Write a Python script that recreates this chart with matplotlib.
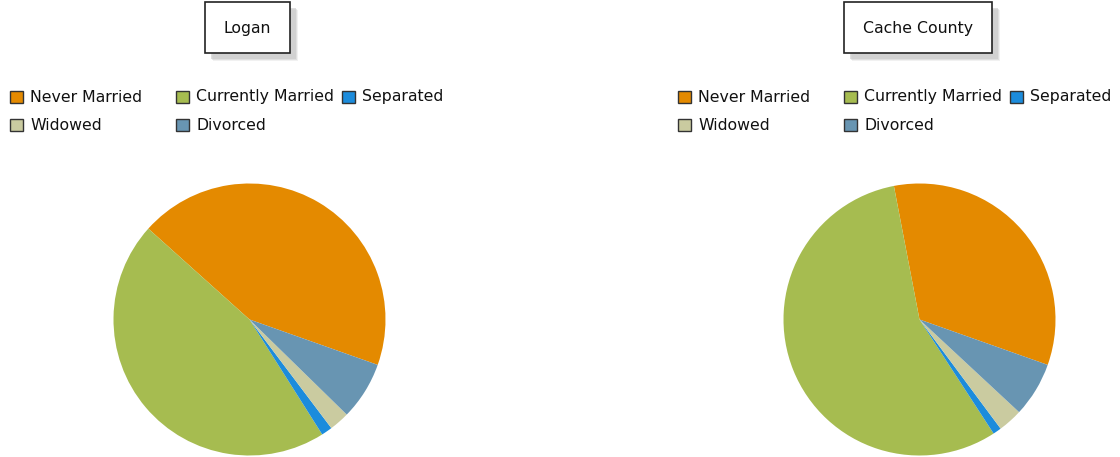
import matplotlib.pyplot as plt
from matplotlib.patches import Rectangle

# marital status shares (percent)
labels = ["Never Married", "Currently Married", "Separated", "Widowed", "Divorced"]
colors = ["#e48a00", "#a6bc50", "#1c8cdc", "#cacba0", "#6895b2"]
logan = [43.75, 45.6, 1.3, 2.4, 6.9]
cache = [33.4, 56.1, 1.0, 2.9, 6.5]
titles = ["Logan", "Cache County"]

W, H = 1120, 457
fig = plt.figure(figsize=(W / 100, H / 100), dpi=100)


def fx(px):
    return px / W


def fy(py):
    return 1 - py / H


def panel(vals, title, x0, cx, box):
    # title box with soft shadow
    bl, bt, br, bb = box
    for off, a in [(8, 0.25), (7, 0.4), (6, 0.6)]:
        fig.patches.append(Rectangle((fx(bl + off), fy(bb + off)), fx(br - bl), (bb - bt) / H,
                                     transform=fig.transFigure, facecolor="#c8c8c8",
                                     edgecolor="none", alpha=a))
    fig.patches.append(Rectangle((fx(bl), fy(bb)), fx(br - bl), (bb - bt) / H,
                                 transform=fig.transFigure, facecolor="white",
                                 edgecolor="#222222", linewidth=1.2))
    fig.text(fx((bl + br) / 2), fy((bt + bb) / 2 + 1), title, ha="center", va="center",
             fontsize=11.3, color="#111111")

    # legend, row-major, fixed column grid
    for i, (lab, c) in enumerate(zip(labels, colors)):
        r, k = divmod(i, 3)
        sx = x0 + 10 + k * 166
        sy = 97 + r * 28
        fig.patches.append(Rectangle((fx(sx), fy(sy + 6)), 13 / W, 12 / H,
                                     transform=fig.transFigure, facecolor=c,
                                     edgecolor="#333333", linewidth=1))
        fig.text(fx(sx + 20), fy(sy), lab, ha="left", va="center",
                 fontsize=11.3, color="#111111")

    r = 136
    ax = fig.add_axes([fx(cx - r), fy(319.5 + r), 2 * r / W, 2 * r / H])
    ax.pie(vals, colors=colors, startangle=-19.5, counterclock=True,
           wedgeprops=dict(linewidth=0))
    ax.set_xlim(-1, 1)
    ax.set_ylim(-1, 1)
    ax.set_aspect("auto")
    ax.axis("off")


panel(logan, titles[0], 0, 249.5, (205, 2, 290, 53))
panel(cache, titles[1], 668, 919.5, (844, 2, 992, 53))

fig.savefig("out.png", dpi=100)
